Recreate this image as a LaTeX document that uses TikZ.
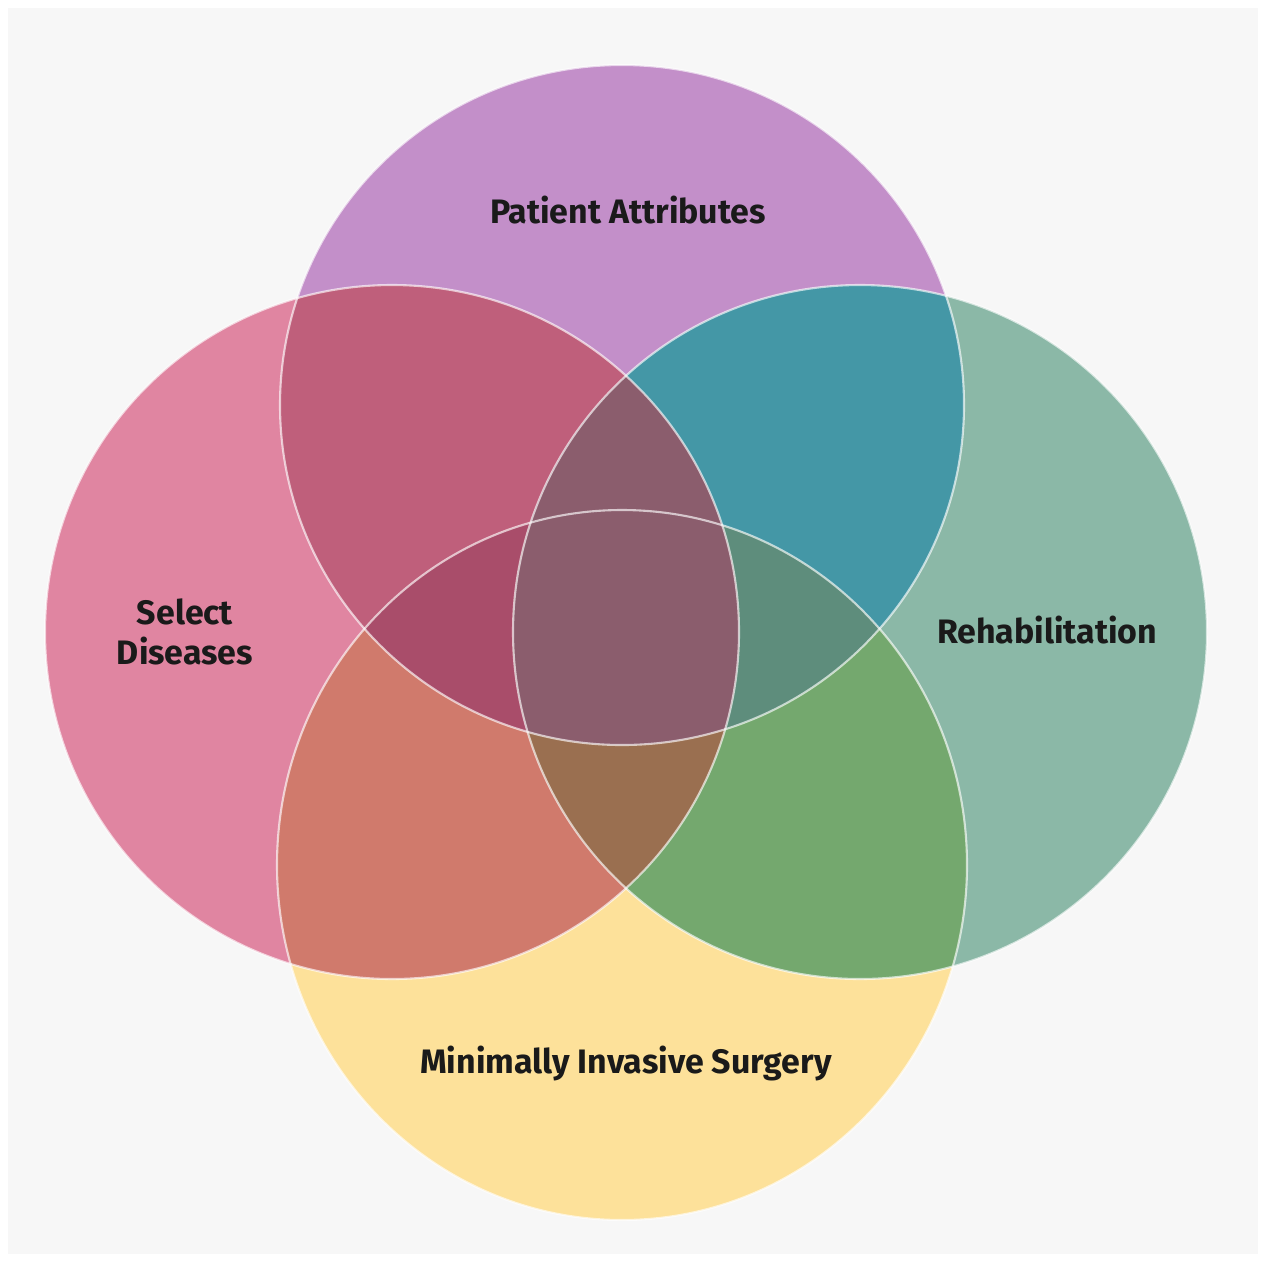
\documentclass[tikz,border=0pt]{standalone}
\usepackage{fontspec}
\newfontfamily\vennfont{Fira Sans}
\usetikzlibrary{positioning}

\definecolor{bgGray}{HTML}{F7F7F7}
\definecolor{patientCol}{HTML}{C38FC9}
\definecolor{diseaseCol}{HTML}{E085A1}
\definecolor{rehabCol}{HTML}{8BB8A7}
\definecolor{surgeryCol}{HTML}{FDE19A}
\definecolor{pdCol}{HTML}{BF5F7B}
\definecolor{prCol}{HTML}{4497A6}
\definecolor{dsCol}{HTML}{D07A6C}
\definecolor{rsCol}{HTML}{74A86E}
\definecolor{pdrCol}{HTML}{8B5D6D}
\definecolor{pdsCol}{HTML}{A94D6A}
\definecolor{prsCol}{HTML}{5E8D7C}
\definecolor{drsCol}{HTML}{9A6F50}
\definecolor{textCol}{HTML}{1A1A1A}

% the four sets, in pixel units
\newcommand\patientset{(622,405) ellipse [x radius=342, y radius=340]}
\newcommand\diseaseset{(392,632) circle [radius=347]}
\newcommand\rehabset{(860,632) circle [radius=347]}
\newcommand\surgeryset{(622,865) ellipse [x radius=345, y radius=355]}

\tikzset{
  lbl/.style={font=\vennfont\bfseries\fontsize{19.3}{22.8}\selectfont, text=textCol, inner sep=0pt},
  rim/.style={draw=white, draw opacity=0.65, line width=1.2pt}
}

\begin{document}
\begin{tikzpicture}[x=0.02cm, y=-0.02cm]
\useasboundingbox (0,0) rectangle (1266,1262);
\fill[white] (0,0) rectangle (1266,1262);
\fill[bgGray] (8,8) rectangle (1258,1254);

% single sets
\fill[patientCol] \patientset;
\fill[surgeryCol] \surgeryset;
\fill[diseaseCol] \diseaseset;
\fill[rehabCol] \rehabset;

% pairs
\begin{scope} \clip \patientset; \fill[pdCol] \diseaseset; \end{scope}
\begin{scope} \clip \patientset; \fill[prCol] \rehabset; \end{scope}
\begin{scope} \clip \surgeryset; \fill[dsCol] \diseaseset; \end{scope}
\begin{scope} \clip \surgeryset; \fill[rsCol] \rehabset; \end{scope}

% triples (the middle one last)
\begin{scope} \clip \patientset; \clip \diseaseset; \fill[pdsCol] \surgeryset; \end{scope}
\begin{scope} \clip \patientset; \clip \rehabset; \fill[prsCol] \surgeryset; \end{scope}
\begin{scope} \clip \diseaseset; \clip \rehabset; \fill[drsCol] \surgeryset; \end{scope}
\begin{scope} \clip \patientset; \clip \diseaseset; \fill[pdrCol] \rehabset; \end{scope}

% rims
\draw[rim] \patientset;
\draw[rim] \surgeryset;
\draw[rim] \diseaseset;
\draw[rim] \rehabset;

\node[lbl] (patient) at (628,210) {Patient Attributes};
\node[lbl, align=center] (disease) at (185,632) {Select\\Diseases};
\node[lbl] (rehab) at (1047,630) {Rehabilitation};
\node[lbl] (surgery) at (626,1063) {Minimally Invasive Surgery};
\end{tikzpicture}
\end{document}
